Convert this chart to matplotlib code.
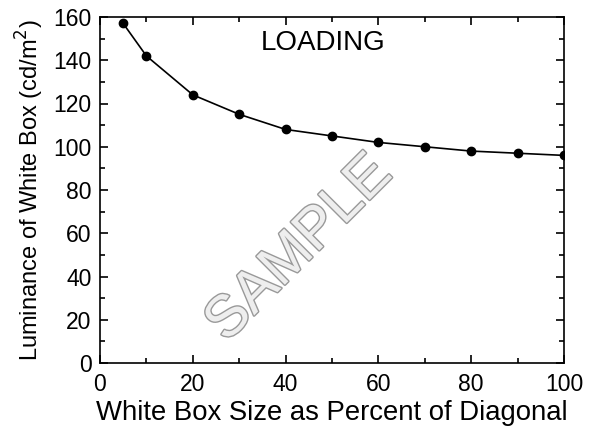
import matplotlib
matplotlib.use("Agg")
import matplotlib.pyplot as plt
import matplotlib.patheffects as pe
from matplotlib.ticker import MultipleLocator

plt.rcParams['font.family'] = ['Liberation Sans', 'DejaVu Sans']

box_size = [5, 10, 20, 30, 40, 50, 60, 70, 80, 90, 100]
luminance = [157, 142, 124, 115, 108, 105, 102, 100, 98, 97, 96]

fig = plt.figure(figsize=(5.89, 4.29), dpi=100)
ax = fig.add_axes([100 / 589, 1 - 363 / 429, 464 / 589, 346 / 429])

ax.plot(box_size, luminance, color='black', linewidth=1.2, marker='o', markersize=6)

ax.set_xlim(0, 100)
ax.set_ylim(0, 160)
ax.xaxis.set_major_locator(MultipleLocator(20))
ax.xaxis.set_minor_locator(MultipleLocator(10))
ax.yaxis.set_major_locator(MultipleLocator(20))
ax.yaxis.set_minor_locator(MultipleLocator(10))
ax.tick_params(which='both', direction='in', top=True, right=True, width=1.2)
ax.tick_params(which='major', length=6, labelsize=16.5)
ax.tick_params(which='minor', length=3.5)
ax.tick_params(axis='x', pad=7)
ax.tick_params(axis='y', pad=6)
for sp in ax.spines.values():
    sp.set_linewidth(1.2)

ax.set_xlabel("White Box Size as Percent of Diagonal", fontsize=19.8, labelpad=3)
ax.set_ylabel("Luminance of White Box (cd/m$^2$)", fontsize=17, labelpad=5)

ax.text(48, 148, "LOADING", fontsize=20, ha='center', va='center')

ax.text(0.43, 0.33, "SAMPLE", transform=ax.transAxes, fontsize=42, rotation=45,
        ha='center', va='center', color='#eeeeee',
        path_effects=[pe.withStroke(linewidth=2, foreground='#999999')])

fig.savefig("out.png", dpi=100)
